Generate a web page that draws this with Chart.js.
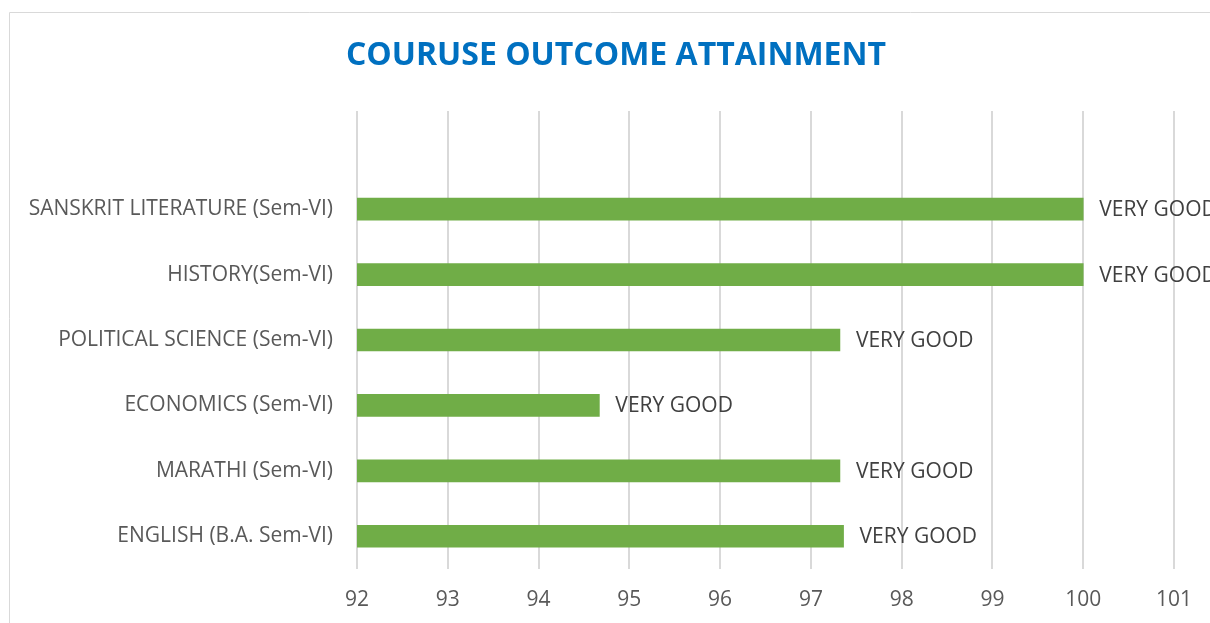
<!DOCTYPE html>
<html><head><meta charset="utf-8">
<script src="https://cdn.jsdelivr.net/npm/chart.js@4/dist/chart.umd.min.js"></script>
<style>html,body{margin:0;padding:0;background:#fff;overflow:hidden}#wrap{position:absolute;left:0;top:0;width:1210px;height:623px}</style>
</head><body><div id="wrap"><canvas id="c" width="1210" height="623"></canvas></div>
<script>
const titleText = "COURUSE OUTCOME ATTAINMENT";
const categories = ["", "SANSKRIT LITERATURE (Sem-VI)", "HISTORY(Sem-VI)", "POLITICAL SCIENCE (Sem-VI)", "ECONOMICS (Sem-VI)", "MARATHI (Sem-VI)", "ENGLISH (B.A. Sem-VI)"];
const attainment = [null, 100, 100, 97.32, 94.67, 97.32, 97.36];
const ratings = ["", "VERY GOOD", "VERY GOOD", "VERY GOOD", "VERY GOOD", "VERY GOOD", "VERY GOOD"];
const xTickValues = [92, 93, 94, 95, 96, 97, 98, 99, 100, 101];
const xMin = 92, xMax = 101.39;

const FONT = "'Open Sans', 'Liberation Sans', sans-serif";

const framePlugin = {
  id: 'frame',
  beforeDraw(chart) {
    const ctx = chart.ctx;
    ctx.save();
    ctx.strokeStyle = '#d9d9d9';
    ctx.lineWidth = 1;
    ctx.beginPath();
    ctx.moveTo(9.5, 640); ctx.lineTo(9.5, 12.5); ctx.lineTo(1220, 12.5);
    ctx.stroke();
    ctx.fillStyle = '#0070c0';
    ctx.font = "bold 32px " + FONT;
    ctx.textAlign = 'center';
    ctx.textBaseline = 'middle';
    ctx.fillText(titleText, 616, 56);
    ctx.restore();
  },
  afterDatasetsDraw(chart) {
    const ctx = chart.ctx;
    const meta = chart.getDatasetMeta(0);
    ctx.save();
    ctx.fillStyle = '#404040';
    ctx.font = "21px " + FONT;
    ctx.textAlign = 'left';
    ctx.textBaseline = 'middle';
    meta.data.forEach((bar, i) => {
      if (attainment[i] == null) return;
      ctx.fillText(ratings[i], bar.x + 16, bar.y + 1);
    });
    ctx.restore();
  }
};

new Chart(document.getElementById('c'), {
  type: 'bar',
  data: {
    labels: categories,
    datasets: [{
      data: attainment,
      backgroundColor: '#70ad47',
      borderWidth: 0,
      barThickness: 22
    }]
  },
  options: {
    indexAxis: 'y',
    responsive: false,
    animation: false,
    layout: { padding: { top: 111, left: 0, right: 0, bottom: 0 } },
    plugins: { legend: { display: false }, tooltip: { enabled: false }, title: { display: false } },
    scales: {
      x: {
        type: 'linear',
        min: xMin, max: xMax,
        afterBuildTicks(scale) {
          scale.ticks = xTickValues.map(v => ({ value: v }));
        },
        ticks: { color: '#595959', font: { size: 21, family: FONT }, padding: 18, maxRotation: 0, autoSkip: false },
        grid: { color: '#d9d9d9', lineWidth: 2, drawTicks: false },
        border: { display: false },
        afterFit(scale) { scale.height = 54; }
      },
      y: {
        ticks: { color: '#595959', font: { size: 21, family: FONT }, padding: 24, autoSkip: false },
        grid: { display: false, drawTicks: false },
        border: { display: false },
        afterFit(scale) { scale.width = 357; }
      }
    }
  },
  plugins: [framePlugin]
});
</script>
</body></html>
